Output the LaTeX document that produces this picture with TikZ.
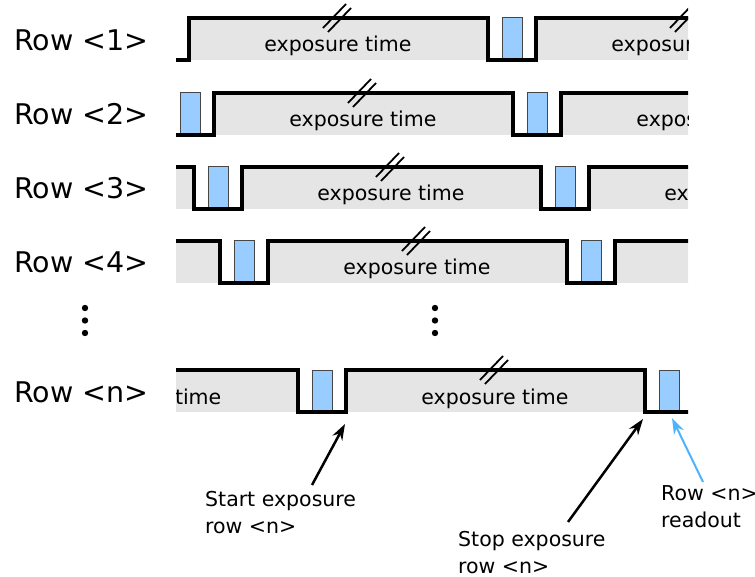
\documentclass[tikz,border=0pt]{standalone}
\usepackage{fontspec}
\setmainfont{DejaVu Sans}
\usetikzlibrary{arrows.meta}
\definecolor{bandgray}{RGB}{229,229,229}
\definecolor{readblue}{RGB}{153,204,255}
\definecolor{arrowblue}{RGB}{77,179,255}
\definecolor{rectedge}{RGB}{70,70,70}

\newcommand{\expfont}{\fontsize{20.5}{24}\selectfont}
\newlength{\expwidth}

\tikzset{
  signal/.style={line width=3.2pt, line join=miter},
  readbox/.style={fill=readblue, draw=rectedge, line width=1pt},
  exptext/.style={anchor=base, inner sep=0pt, font=\expfont},
  rowlabel/.style={anchor=base west, inner sep=0pt, font=\fontsize{28.5}{32}\selectfont},
  note/.style={anchor=base west, inner sep=0pt, align=left, font=\fontsize{20.5}{26.5}\selectfont},
  breakmark/.style={line width=1.8pt},
  ptr/.style={line width=2.5pt, -{Stealth[length=16pt,width=11pt]}},
}

% One row of the rolling-shutter timing: #1 top edge, #2 earlier gap, #3 current gap
\newcommand{\timingrow}[3]{%
  \pgfmathsetmacro\wfBot{#1+42}
  \pgfmathsetmacro\wfA{#2}
  \pgfmathsetmacro\wfB{#2+48}
  \pgfmathsetmacro\wfC{#3}
  \pgfmathsetmacro\wfD{#3+48}
  \pgfmathsetmacro\wfE{#3+347}
  \pgfmathsetmacro\wfF{#3+395}
  \pgfmathsetmacro\wfBase{#1+34}
  \begin{scope}
    \clip (176,0) rectangle (688,577);
    % exposure phases
    \fill[bandgray] (\wfA-400,#1) rectangle (\wfA,\wfBot);
    \fill[bandgray] (\wfB,#1) rectangle (\wfC,\wfBot);
    \fill[bandgray] (\wfD,#1) rectangle (\wfE,\wfBot);
    \fill[bandgray] (\wfF,#1) rectangle (\wfF+400,\wfBot);
    % readout slots
    \foreach \g in {\wfA,\wfC,\wfE}
      \filldraw[readbox] (\g+14,#1) rectangle (\g+34,\wfBot);
    % labels of the exposure phases that fall inside the window;
    % a phase entering from the left shows only the tail of its label
    \foreach \g in {\wfA,\wfC,\wfE} {
      \pgfmathsetmacro\wfX{\g-150}
      \pgfmathsetmacro\wfR{\wfX+0.5*\expwidth}
      \ifdim\wfX pt>100pt \ifdim\wfX pt<755pt
        \ifdim\wfX pt<250pt
          \node[exptext, anchor=base east] at (\wfR,\wfBase) {time};
        \else
          \node[exptext] at (\wfX,\wfBase) {exposure time};
        \fi
      \fi\fi
    }
    % signal level
    \draw[signal] (\wfA-400,#1) -- (\wfA,#1) -- (\wfA,\wfBot) -- (\wfB,\wfBot)
      -- (\wfB,#1) -- (\wfC,#1) -- (\wfC,\wfBot) -- (\wfD,\wfBot)
      -- (\wfD,#1) -- (\wfE,#1) -- (\wfE,\wfBot) -- (\wfF,\wfBot)
      -- (\wfF,#1) -- (\wfF+400,#1);
    % break marks on the long exposure phases
    \foreach \g in {\wfA,\wfC,\wfE} {
      \draw[breakmark] (\g-165,#1+10) -- (\g-142,#1-14);
      \draw[breakmark] (\g-160,#1+14) -- (\g-137,#1-10);
    }
  \end{scope}
}

\begin{document}
\settowidth{\expwidth}{\expfont exposure time}%
\begin{tikzpicture}[x=1pt, y=-1pt]
  \useasboundingbox (0,0) rectangle (755,577);

  \timingrow{18}{141}{488}
  \timingrow{93}{166}{513}
  \timingrow{167}{194}{541}
  \timingrow{241}{220}{567}
  \timingrow{370}{298}{645}

  \node[rowlabel] (r1) at (14,51)  {Row <1>};
  \node[rowlabel] (r2) at (14,125) {Row <2>};
  \node[rowlabel] (r3) at (14,199) {Row <3>};
  \node[rowlabel] (r4) at (14,273) {Row <4>};
  \node[rowlabel] (rn) at (14,402) {Row <n>};

  % vertical ellipses
  \foreach \y in {308,320.5,333} {
    \fill (85,\y) circle[radius=3.2pt];
    \fill (435,\y) circle[radius=3.2pt];
  }

  % annotations (anchored on the baseline of their last line)
  \node[note] (startlbl) at (205,533) {Start exposure\\row <n>};
  \node[note] (stoplbl)  at (458,573) {Stop exposure\\row <n>};
  \node[note] (readlbl)  at (661,527) {Row <n>\\readout};

  \coordinate (startTip)  at (345,424);
  \coordinate (startTail) at (312,485);
  \coordinate (stopTip)   at (643,419);
  \coordinate (stopTail)  at (568,522);
  \coordinate (readTip)   at (672,418);
  \coordinate (readTail)  at (703,482);

  \draw[ptr] (startTail) -- (startTip);
  \draw[ptr] (stopTail) -- (stopTip);
  \draw[ptr, arrowblue, line width=2pt] (readTail) -- (readTip);
\end{tikzpicture}
\end{document}
